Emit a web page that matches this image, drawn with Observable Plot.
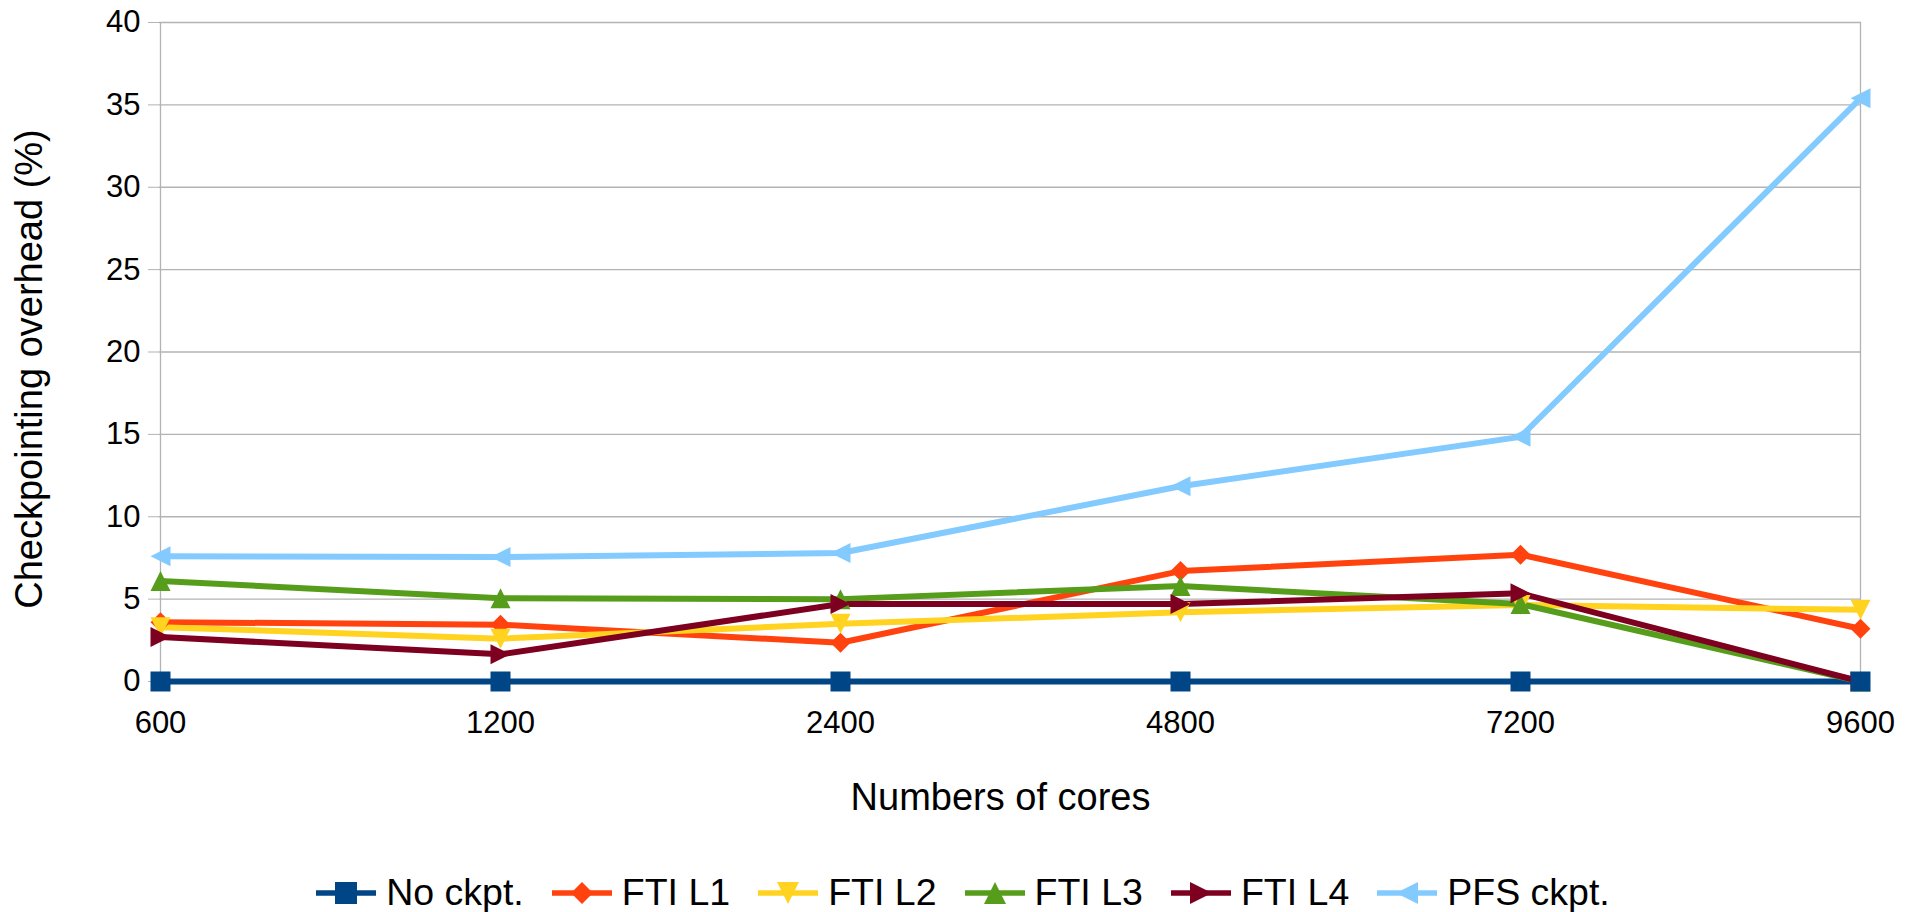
<!DOCTYPE html>
<html><head><meta charset="utf-8">
<script src="https://cdn.jsdelivr.net/npm/d3@7"></script>
<script src="https://cdn.jsdelivr.net/npm/@observablehq/plot@0.6"></script>
<style>
html,body{margin:0;padding:0;background:#fff;overflow:hidden;}
body{font-family:"Liberation Sans",Arial,sans-serif;}
#legend{display:flex;justify-content:center;align-items:center;height:38px;gap:28px;font-size:37.5px;line-height:1.15;color:#000;white-space:nowrap;padding-left:8px;}
.item{display:flex;align-items:center;gap:10px;}
.item svg{display:block;}
</style></head><body><div id="chart"></div><div id="legend"></div>
<script>
// ---- data ----
const cores = ["600", "1200", "2400", "4800", "7200", "9600"];
const seriesNames = ["No ckpt.", "FTI L1", "FTI L2", "FTI L3", "FTI L4", "PFS ckpt."];
const noCkpt = [0, 0, 0, 0, 0, 0];
const ftiL1 = [3.6, 3.45, 2.35, 6.7, 7.7, 3.2];
const ftiL2 = [3.3, 2.6, 3.5, 4.2, 4.65, 4.35];
const ftiL3 = [6.1, 5.05, 5.0, 5.8, 4.7, 0];
const ftiL4 = [2.7, 1.65, 4.7, 4.7, 5.35, 0];
const pfsCkpt = [7.6, 7.55, 7.8, 11.85, 14.85, 35.4];
const yTicks = [0, 5, 10, 15, 20, 25, 30, 35, 40];
const xTitle = "Numbers of cores";
const yTitle = "Checkpointing overhead (%)";
const colors = ["#004586", "#ff420e", "#ffd320", "#579d1c", "#7e0021", "#83caff"];

// ---- marker shapes ----
const hs = size => Math.sqrt(size / Math.PI);
const shapes = [
  {draw(c, s){const h = hs(s); c.rect(-h, -h, 2*h, 2*h);}},
  {draw(c, s){const h = hs(s); c.moveTo(0,-h); c.lineTo(h,0); c.lineTo(0,h); c.lineTo(-h,0); c.closePath();}},
  {draw(c, s){const h = hs(s); c.moveTo(-h,-h); c.lineTo(h,-h); c.lineTo(0,h); c.closePath();}},
  {draw(c, s){const h = hs(s); c.moveTo(0,-h); c.lineTo(h,h); c.lineTo(-h,h); c.closePath();}},
  {draw(c, s){const h = hs(s); c.moveTo(-h,-h); c.lineTo(h,0); c.lineTo(-h,h); c.closePath();}},
  {draw(c, s){const h = hs(s); c.moveTo(h,-h); c.lineTo(-h,0); c.lineTo(h,h); c.closePath();}}
];

const values = [noCkpt, ftiL1, ftiL2, ftiL3, ftiL4, pfsCkpt];
const tables = values.map((vals, i) => cores.map((c, j) => ({cores: c, value: vals[j], series: seriesNames[i]})));

const lineMarks = tables.map((t, i) => Plot.line(t, {x: "cores", y: "value", stroke: colors[i], strokeWidth: 6}));
// No ckpt. squares drawn last (on top), as in the reference
const dotOrder = [1, 2, 3, 4, 5, 0];
const dotMarks = dotOrder.map(i => Plot.dot(tables[i], {x: "cores", y: "value", fill: colors[i], stroke: "none", r: 10, symbol: shapes[i]}));

const chart = Plot.plot({
  width: 1918, height: 874,
  marginLeft: 159, marginRight: 57, marginTop: 22, marginBottom: 193,
  style: {fontFamily: "Liberation Sans", fontSize: "31px", color: "#000", background: "#fff", overflow: "visible"},
  x: {type: "point", domain: cores, padding: 0},
  y: {domain: [0, 40]},
  marks: [
    Plot.ruleY(yTicks, {stroke: "#b3b3b3", strokeWidth: 1.3}),
    Plot.ruleX([cores[0], cores[cores.length - 1]], {stroke: "#b3b3b3", strokeWidth: 1.3}),
    Plot.axisY(yTicks, {tickSize: 11, tickPadding: 8, stroke: "#b3b3b3", fill: "#000", label: null}),
    Plot.axisX(cores, {tickSize: 9, tickPadding: 20, stroke: "#b3b3b3", fill: "#000", label: null}),
    ...lineMarks,
    ...dotMarks,
    Plot.text([xTitle], {frameAnchor: "bottom", textAnchor: "middle", lineAnchor: "middle", dx: -10, dy: 116, fontSize: 38, text: d => d, fill: "#000"}),
    Plot.text([yTitle], {frameAnchor: "left", textAnchor: "middle", lineAnchor: "middle", rotate: -90, dx: -130, dy: 17, fontSize: 38, text: d => d, fill: "#000"})
  ]
});
document.getElementById("chart").appendChild(chart);

// ---- legend ----
const legend = d3.select("#legend");
seriesNames.forEach((name, i) => {
  const item = legend.append("div").attr("class", "item");
  const svg = item.append("svg").attr("width", 60).attr("height", 26);
  svg.append("line").attr("x1", 0).attr("x2", 60).attr("y1", 13).attr("y2", 13)
    .attr("stroke", colors[i]).attr("stroke-width", 5.5);
  const p = d3.path();
  shapes[i].draw(p, Math.PI * 11 * 11);
  svg.append("path").attr("d", p.toString()).attr("transform", "translate(30,13)").attr("fill", colors[i]);
  item.append("span").text(name);
});
</script>
</body></html>
